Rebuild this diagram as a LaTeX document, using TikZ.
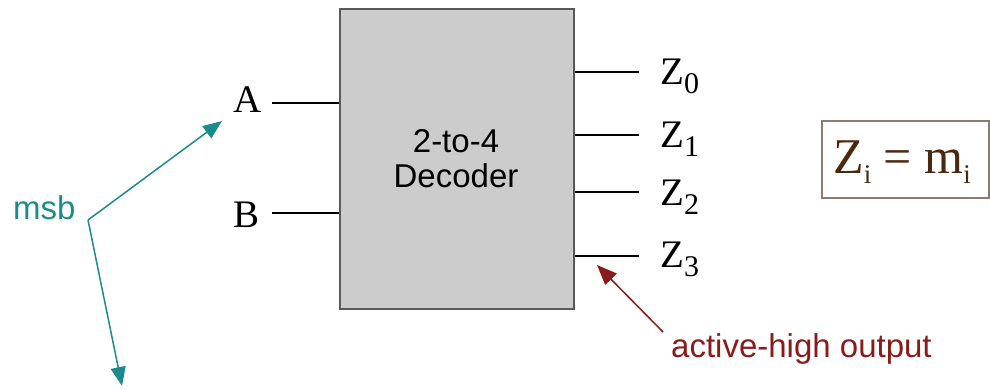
\documentclass[tikz,border=0pt]{standalone}
\usepackage{fontspec}
\setmainfont{Liberation Serif}
\setsansfont{Liberation Sans}
\usetikzlibrary{arrows.meta}
\definecolor{tealc}{HTML}{1A8C8C}
\definecolor{darkredc}{HTML}{8B1A1A}
\definecolor{boxgray}{HTML}{CCCCCC}
\definecolor{brownb}{HTML}{8C7B6E}
\definecolor{brownt}{HTML}{4A2810}
\newcommand{\zsb}[2]{#1\raisebox{-9pt}{\fontsize{30}{30}\selectfont #2}}
\newcommand{\bigsb}[2]{#1\raisebox{-10pt}{\fontsize{27}{27}\selectfont #2}}
\begin{document}
\begin{tikzpicture}[x=1pt,y=-1pt,
  lbl/.style={inner sep=0pt, anchor=base west, font=\fontsize{39}{39}\selectfont},
  wire/.style={line width=2pt, black},
  san/.style={inner sep=0pt, font=\sffamily\fontsize{33}{33}\selectfont},
  tealarrow/.style={tealc, line width=1.5pt, -{Triangle[length=19pt,width=15pt]}},
  redarrow/.style={darkredc, line width=1.5pt, -{Triangle[length=20pt,width=16pt]}}]
\useasboundingbox (0,0) rectangle (990,389);
% decoder box
\node[draw=black!65, line width=1.5pt, fill=boxgray, minimum width=234pt, minimum height=300pt, inner sep=0pt, anchor=north west] (dec) at (339,8) {};
\node[san, anchor=base] (t1) at (456,152) {2-to-4};
\node[san, anchor=base] (t2) at (456,187) {Decoder};
% inputs
\node[lbl] (A) at (233,112) {A};
\node[lbl] (B) at (233,227) {B};
\coordinate (ain) at (272,103);
\coordinate (bin) at (272,213);
\draw[wire] (ain) -- (ain -| dec.west);
\draw[wire] (bin) -- (bin -| dec.west);
% outputs
\coordinate (o0) at (639,72);
\coordinate (o1) at (639,135);
\coordinate (o2) at (639,192);
\coordinate (o3) at (639,256);
\draw[wire] (o0 -| dec.east) -- (o0);
\draw[wire] (o1 -| dec.east) -- (o1);
\draw[wire] (o2 -| dec.east) -- (o2);
\draw[wire] (o3 -| dec.east) -- (o3);
\node[lbl] (z0) at (660,84) {\zsb{Z}{0}};
\node[lbl] (z1) at (660,147) {\zsb{Z}{1}};
\node[lbl] (z2) at (660,205) {\zsb{Z}{2}};
\node[lbl] (z3) at (660,267) {\zsb{Z}{3}};
% Zi = mi box
\node[draw=brownb, line width=1.5pt, minimum width=167pt, minimum height=77pt, inner sep=0pt, anchor=north west] (zib) at (821,120) {};
\node[inner sep=0pt, anchor=base west, text=brownt, font=\fontsize{50}{50}\selectfont] (zi) at (833,173) {\bigsb{Z}{i} = \bigsb{m}{i}};
% msb
\node[san, anchor=base west, text=tealc] (msb) at (13,219) {msb};
\coordinate (piv) at (88,220);
\coordinate (tipA) at (222,121);
\coordinate (tipD) at (122,386);
\draw[tealarrow] (piv) -- (tipA);
\draw[tealarrow] (piv) -- (tipD);
% active-high output
\node[san, anchor=base west, text=darkredc] (act) at (671,357) {active-high output};
\coordinate (acts) at (663,332);
\coordinate (actt) at (597,265);
\draw[redarrow] (acts) -- (actt);
\end{tikzpicture}
\end{document}
